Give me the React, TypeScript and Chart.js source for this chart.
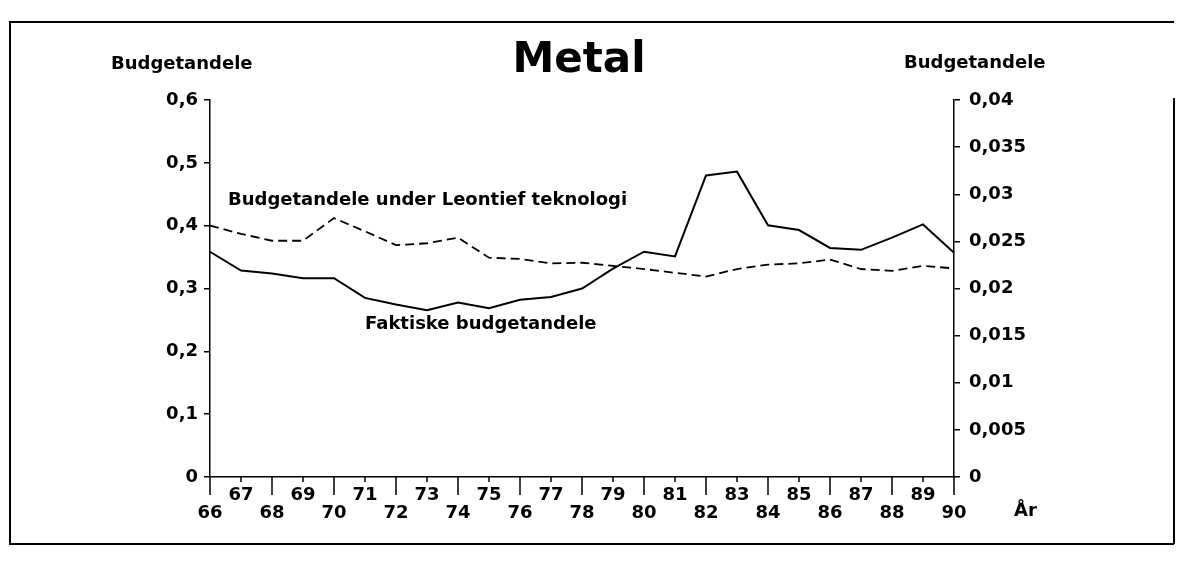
import { useEffect, useRef } from 'react';
import { Chart, registerables } from 'chart.js';

Chart.register(...registerables);

// ---- data ----
const years = ['66', '67', '68', '69', '70', '71', '72', '73', '74', '75', '76', '77', '78',
  '79', '80', '81', '82', '83', '84', '85', '86', '87', '88', '89', '90'];

// Budgetandele under Leontief teknologi (left axis)
const leontief = [0.400, 0.387, 0.376, 0.376, 0.412, 0.391, 0.369, 0.372, 0.381, 0.349, 0.347, 0.340, 0.341,
  0.336, 0.331, 0.325, 0.319, 0.331, 0.338, 0.340, 0.346, 0.331, 0.328, 0.336, 0.332];

// Faktiske budgetandele (right axis)
const faktiske = [0.0239, 0.0219, 0.0216, 0.0211, 0.0211, 0.0190, 0.0183, 0.0177, 0.0185, 0.0179, 0.0188, 0.0191, 0.0200,
  0.0221, 0.0239, 0.0234, 0.0320, 0.0324, 0.0267, 0.0262, 0.0243, 0.0241, 0.0254, 0.0268, 0.0238];

const leftAxis = { min: 0, max: 0.6, step: 0.1 };
const rightAxis = { min: 0, max: 0.04, step: 0.005 };

const titleText = 'Metal';
const axisTitle = 'Budgetandele';
const leontiefLabel = 'Budgetandele under Leontief teknologi';
const faktiskeLabel = 'Faktiske budgetandele';
const xTitle = 'År';

const FONT = '"DejaVu Sans", sans-serif';
const W = 1168;
const H = 549;

const fmt = (v: number, digits: number) => {
  const s = Number(Number(v).toFixed(digits)).toString();
  return s.replace('.', ',');
};

const annotations = {
  id: 'annotations',
  afterDraw(chart: any) {
    const ctx = chart.ctx as CanvasRenderingContext2D;
    const xs = chart.scales.x;
    ctx.save();
    ctx.fillStyle = '#000';
    ctx.strokeStyle = '#000';

    // x-axis tick marks (long on even years, short on odd years)
    ctx.lineWidth = 1.5;
    years.forEach((_, i) => {
      const px = xs.getPixelForValue(i);
      const len = i % 2 === 0 ? 18 : 5;
      ctx.beginPath();
      ctx.moveTo(px, xs.top);
      ctx.lineTo(px, xs.top + len);
      ctx.stroke();
    });

    // title
    ctx.font = `bold 42px ${FONT}`;
    ctx.textAlign = 'center';
    ctx.textBaseline = 'alphabetic';
    ctx.fillText(titleText, 571, 64);

    // axis titles
    ctx.font = `bold 18px ${FONT}`;
    ctx.textAlign = 'left';
    ctx.fillText(axisTitle, 103, 61);
    ctx.fillText(axisTitle, 896, 60);

    // inline series labels
    ctx.fillText(leontiefLabel, 220, 197);
    ctx.fillText(faktiskeLabel, 357, 321);

    // x title
    ctx.fillText(xTitle, 1006, 508);

    // frame
    ctx.lineWidth = 2;
    ctx.beginPath();
    ctx.moveTo(1166, 14);
    ctx.lineTo(2, 14);
    ctx.lineTo(2, 536);
    ctx.lineTo(1166, 536);
    ctx.stroke();
    ctx.beginPath();
    ctx.moveTo(1166, 90);
    ctx.lineTo(1166, 536);
    ctx.stroke();

    ctx.restore();
  },
};

export default function App() {
  const ref = useRef<HTMLCanvasElement | null>(null);

  useEffect(() => {
    if (!ref.current) return;
    const chart = new Chart(ref.current, {
      type: 'line',
      data: {
        labels: years,
        datasets: [
          {
            label: leontiefLabel,
            data: leontief,
            yAxisID: 'y',
            borderColor: '#000',
            borderWidth: 1.8,
            borderDash: [9, 5],
            pointRadius: 0,
            tension: 0,
            fill: false,
          },
          {
            label: faktiskeLabel,
            data: faktiske,
            yAxisID: 'y1',
            borderColor: '#000',
            borderWidth: 2,
            pointRadius: 0,
            tension: 0,
            fill: false,
          },
        ],
      },
      options: {
        responsive: false,
        animation: false,
        devicePixelRatio: 1,
        layout: { padding: { top: 92, left: 0, right: 0, bottom: 0 } },
        plugins: {
          legend: { display: false },
          tooltip: { enabled: false },
          title: { display: false },
        },
        scales: {
          x: {
            type: 'category',
            offset: false,
            grid: { display: false, drawTicks: false },
            border: { display: true, color: '#000', width: 1.5 },
            ticks: {
              autoSkip: false,
              maxRotation: 0,
              minRotation: 0,
              padding: 9,
              color: '#000',
              font: { family: FONT, size: 18, weight: 'bold', lineHeight: 1.0 },
              callback: (_v: any, i: number) => (i % 2 === 0 ? ['', years[i]] : [years[i]]),
            },
            afterFit: (s: any) => { s.height = 80; },
          },
          y: {
            position: 'left',
            min: leftAxis.min,
            max: leftAxis.max,
            grid: { drawOnChartArea: false, drawTicks: true, tickLength: 6, color: '#000', lineWidth: 1.5 },
            border: { display: true, color: '#000', width: 1.5 },
            ticks: {
              stepSize: leftAxis.step,
              padding: 6,
              color: '#000',
              font: { family: FONT, size: 18, weight: 'bold' },
              callback: (v: any) => fmt(v, 1),
            },
            afterFit: (s: any) => { s.width = 202; },
          },
          y1: {
            position: 'right',
            min: rightAxis.min,
            max: rightAxis.max,
            grid: { drawOnChartArea: false, drawTicks: true, tickLength: 6, color: '#000', lineWidth: 1.5 },
            border: { display: true, color: '#000', width: 1.5 },
            ticks: {
              stepSize: rightAxis.step,
              padding: 9,
              color: '#000',
              font: { family: FONT, size: 18, weight: 'bold' },
              callback: (v: any) => fmt(v, 3),
            },
            afterFit: (s: any) => { s.width = 222; },
          },
        },
      },
      plugins: [annotations],
    });
    return () => chart.destroy();
  }, []);

  return (
    <div style={{ width: W, height: H }}>
      <canvas ref={ref} width={W} height={H} style={{ display: 'block' }} />
    </div>
  );
}
